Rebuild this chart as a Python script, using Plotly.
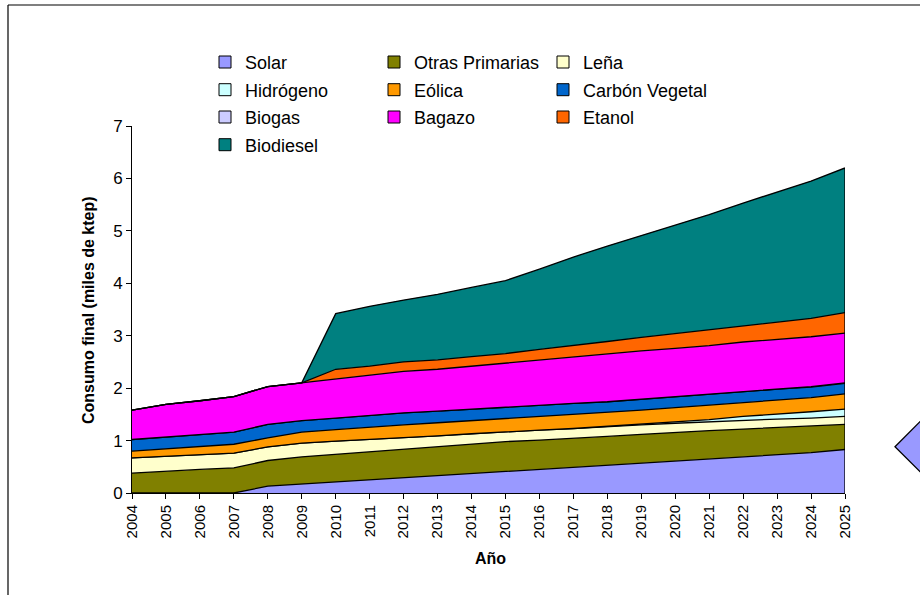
import plotly.graph_objects as go

years = list(range(2004, 2026))

solar = [0, 0, 0, 0, 0.13, 0.17, 0.21, 0.25, 0.29, 0.33, 0.37, 0.42, 0.46, 0.50, 0.53, 0.57, 0.61, 0.65, 0.69, 0.73, 0.77, 0.83]
otras_primarias = [0.38, 0.42, 0.45, 0.48, 0.49, 0.52, 0.53, 0.53, 0.54, 0.55, 0.56, 0.56, 0.55, 0.54, 0.55, 0.55, 0.55, 0.54, 0.53, 0.52, 0.51, 0.48]
lena = [0.29, 0.28, 0.28, 0.28, 0.26, 0.26, 0.25, 0.24, 0.22, 0.21, 0.20, 0.19, 0.19, 0.19, 0.19, 0.18, 0.17, 0.17, 0.17, 0.16, 0.15, 0.15]
hidrogeno = [0, 0, 0, 0, 0, 0, 0, 0, 0, 0, 0, 0, 0, 0, 0, 0.01, 0.02, 0.04, 0.07, 0.09, 0.12, 0.14]
eolica = [0.13, 0.14, 0.15, 0.17, 0.17, 0.21, 0.22, 0.24, 0.25, 0.25, 0.25, 0.25, 0.25, 0.26, 0.26, 0.27, 0.28, 0.28, 0.27, 0.28, 0.27, 0.29]
carbon_vegetal = [0.22, 0.23, 0.24, 0.23, 0.26, 0.22, 0.22, 0.22, 0.23, 0.22, 0.22, 0.22, 0.22, 0.22, 0.21, 0.21, 0.21, 0.21, 0.21, 0.20, 0.20, 0.20]
biogas = [0, 0, 0, 0, 0, 0, 0, 0, 0, 0, 0, 0, 0, 0, 0, 0, 0, 0, 0, 0, 0.01, 0.01]
bagazo = [0.56, 0.62, 0.64, 0.68, 0.72, 0.72, 0.75, 0.77, 0.79, 0.80, 0.82, 0.84, 0.87, 0.89, 0.91, 0.92, 0.92, 0.92, 0.94, 0.95, 0.95, 0.95]
etanol = [0, 0, 0, 0, 0, 0, 0.18, 0.17, 0.18, 0.18, 0.18, 0.18, 0.20, 0.21, 0.24, 0.26, 0.28, 0.30, 0.31, 0.33, 0.35, 0.39]
biodiesel = [0, 0, 0, 0, 0, 0, 1.06, 1.14, 1.18, 1.25, 1.32, 1.39, 1.53, 1.69, 1.82, 1.94, 2.07, 2.20, 2.34, 2.48, 2.62, 2.76]

series_names = ["Solar", "Otras Primarias", "Leña", "Hidrógeno", "Eólica",
                "Carbón Vegetal", "Biogas", "Bagazo", "Etanol", "Biodiesel"]
series_values = [solar, otras_primarias, lena, hidrogeno, eolica,
                 carbon_vegetal, biogas, bagazo, etanol, biodiesel]
series_colors = ["#9999FF", "#808000", "#FFFFCC", "#CCFFFF", "#FF9900",
                 "#0066CC", "#CCCCFF", "#FF00FF", "#FF6600", "#008080"]

W, H = 920, 595
ML, MR, MT, MB = 132, 75, 126, 102
PW, PH = W - ML - MR, H - MT - MB


def px(x):
    return (x - ML) / PW


def py(y):
    return (H - MB - y) / PH


FONT = "Liberation Sans, Arial, sans-serif"

fig = go.Figure()

for name, vals, col in zip(series_names, series_values, series_colors):
    fig.add_trace(go.Scatter(
        x=years, y=vals, name=name, mode="lines",
        stackgroup="one", fillcolor=col,
        line=dict(color="black", width=1.3),
        showlegend=False, hoverinfo="x+y+name",
    ))

# legend entries (square swatches), three per row
legend_ids = ["legend", "legend2", "legend3", "legend4"]
for i, (name, col) in enumerate(zip(series_names, series_colors)):
    fig.add_trace(go.Bar(
        x=[None], y=[None], name=name,
        marker=dict(color=col, line=dict(color="black", width=1)),
        showlegend=True, legend=legend_ids[i // 3],
    ))

# right edge of the stacked area
total_last = sum(v[-1] for v in series_values)
fig.add_trace(go.Scatter(
    x=[years[-1], years[-1]], y=[0, total_last], mode="lines",
    line=dict(color="black", width=1.3), showlegend=False, hoverinfo="skip",
))

shapes = [
    dict(type="line", xref="paper", yref="paper", x0=px(8), y0=py(5), x1=px(8), y1=py(600),
         line=dict(color="black", width=1.2)),
    dict(type="line", xref="paper", yref="paper", x0=px(8), y0=py(5), x1=px(925), y1=py(5),
         line=dict(color="black", width=1.2)),
    dict(type="path", xref="paper", yref="paper",
         path="M {},{} L {},{} L {},{} L {},{} Z".format(
             px(895), py(446.7), px(921), py(420.7), px(947), py(446.7), px(921), py(472.7)),
         fillcolor="#9999FF", line=dict(color="black", width=1.3)),
]

row_centers = [62.3, 90, 117.3, 145]
legend_layout = {}
for lid, yc in zip(legend_ids, row_centers):
    legend_layout[lid] = dict(
        orientation="h", traceorder="normal",
        x=px(205), y=py(yc), xanchor="left", yanchor="middle",
        entrywidth=124, entrywidthmode="pixels",
        font=dict(family=FONT, size=18, color="black"),
        bgcolor="rgba(0,0,0,0)", itemclick=False, itemdoubleclick=False,
    )

fig.update_layout(
    width=W, height=H,
    margin=dict(l=ML, r=MR, t=MT, b=MB, pad=0),
    paper_bgcolor="white", plot_bgcolor="white",
    font=dict(family=FONT, color="black"),
    showlegend=True,
    xaxis=dict(
        range=[years[0], years[-1]], tickmode="array", tickvals=years,
        ticktext=[str(y) for y in years], tickangle=-90,
        ticks="outside", ticklen=5, tickcolor="black",
        showline=True, linecolor="black", linewidth=1,
        showgrid=False, zeroline=False,
        tickfont=dict(family=FONT, size=15, color="black"),
    ),
    yaxis=dict(
        range=[0, 7], tickmode="linear", tick0=0, dtick=1,
        ticks="outside", ticklen=5, tickcolor="black",
        showline=True, linecolor="black", linewidth=1,
        showgrid=False, zeroline=False,
        tickfont=dict(family=FONT, size=17, color="black"),
    ),
    barmode="overlay",
    shapes=shapes,
    annotations=[
        dict(text="<b>Consumo final (miles de ktep)</b>", xref="paper", yref="paper",
             x=px(88), y=py(310), textangle=-90, showarrow=False,
             xanchor="center", yanchor="middle",
             font=dict(family=FONT, size=16, color="black")),
        dict(text="<b>Año</b>", xref="paper", yref="paper",
             x=px(490), y=py(558), showarrow=False,
             xanchor="center", yanchor="middle",
             font=dict(family=FONT, size=16, color="black")),
    ],
    **legend_layout,
)

fig.write_html("out.html")
